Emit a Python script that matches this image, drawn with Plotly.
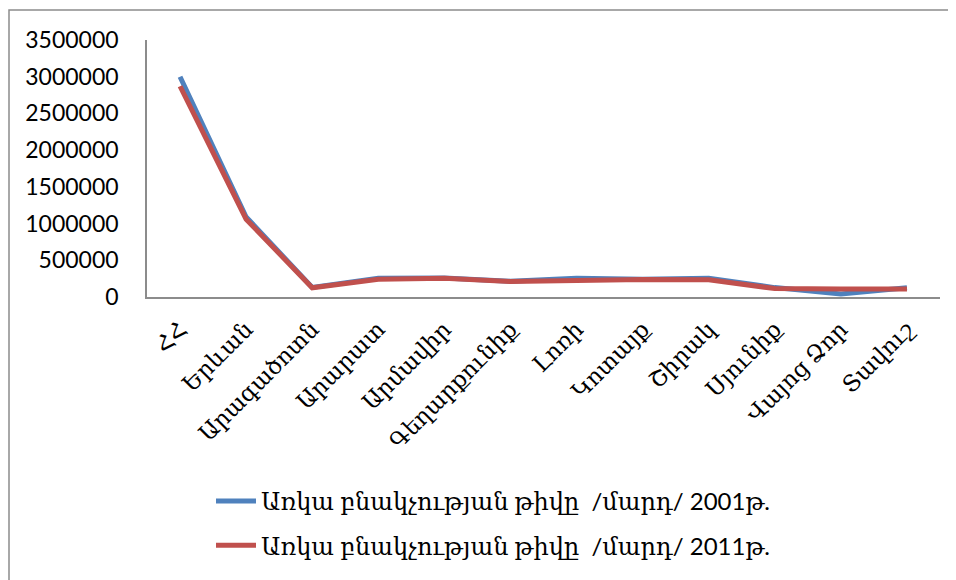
import plotly.graph_objects as go

categories = ["ՀՀ", "Երևան", "Արագածոտն", "Արարատ", "Արմավիր", "Գեղարքունիք",
              "Լոռի", "Կոտայք", "Շիրակ", "Սյունիք", "Վայոց Ձոր", "Տավուշ"]
pop_2001 = [3000000, 1090000, 130000, 255000, 258000, 215000,
            256000, 242000, 257000, 128000, 42000, 125000]
pop_2011 = [2870000, 1060000, 125000, 242000, 255000, 210000,
            224000, 240000, 235000, 115000, 108000, 110000]
series_names = ["Առկա բնակչության թիվը  /մարդ/ 2001թ.",
                "Առկա բնակչության թիվը  /մարդ/ 2011թ."]
y_ticks = [0, 500000, 1000000, 1500000, 2000000, 2500000, 3000000, 3500000]

FONT = "Lato, 'DejaVu Serif', serif"

fig = go.Figure()
fig.add_trace(go.Scatter(x=categories, y=pop_2001, mode="lines", name=series_names[0],
                         legendgroup="a", line=dict(color="#4F81BD", width=5)))
fig.add_trace(go.Scatter(x=categories, y=pop_2011, mode="lines", name=series_names[1],
                         legendgroup="b", line=dict(color="#C0504D", width=5)))

W, H = 956, 580
OFF = 8  # page body margin
# plot area in window pixels: x 147..940, y 40..297
L = 147 - OFF
T = 40 - OFF
pw = 793
ph = 257
R = W - L - pw
B = H - T - ph

def px(xw):
    return (xw - OFF - L) / pw

def py(yw):
    return (T + ph - (yw - OFF)) / ph

fig.update_layout(
    width=W, height=H,
    margin=dict(l=L, r=R, t=T, b=B, autoexpand=False),
    paper_bgcolor="white", plot_bgcolor="white",
    font=dict(family=FONT, color="black", size=20),
    showlegend=True,
    legend=dict(x=px(211), y=py(479), xanchor="left", yanchor="top",
                orientation="v", font=dict(family=FONT, size=24, color="black"),
                bgcolor="rgba(0,0,0,0)", itemwidth=40, tracegroupgap=10,
                traceorder="grouped"),
    xaxis=dict(type="category", range=[-0.5, len(categories) - 0.5],
               showgrid=False, zeroline=False, showline=True, automargin=False,
               linecolor="#8C8C8C", linewidth=1.5, ticks="", tickangle=-45,
               ticklabelstandoff=8,
               tickfont=dict(family=FONT, size=23, color="black"), fixedrange=True),
    yaxis=dict(range=[0, 3500000], tickvals=y_ticks, tickformat="d", showgrid=False,
               zeroline=False, showline=True, linecolor="#8C8C8C", linewidth=1.5,
               automargin=False, ticks="",
               tickfont=dict(family="Lato, sans-serif", size=23, color="black"),
               ticklabelstandoff=22, fixedrange=True),
    shapes=[dict(type="rect", xref="paper", yref="paper",
                 x0=px(9), x1=px(955), y0=py(600), y1=py(10),
                 line=dict(color="#8C8C8C", width=1.5), fillcolor="rgba(0,0,0,0)",
                 layer="below")],
)

fig.write_html("out.html")
